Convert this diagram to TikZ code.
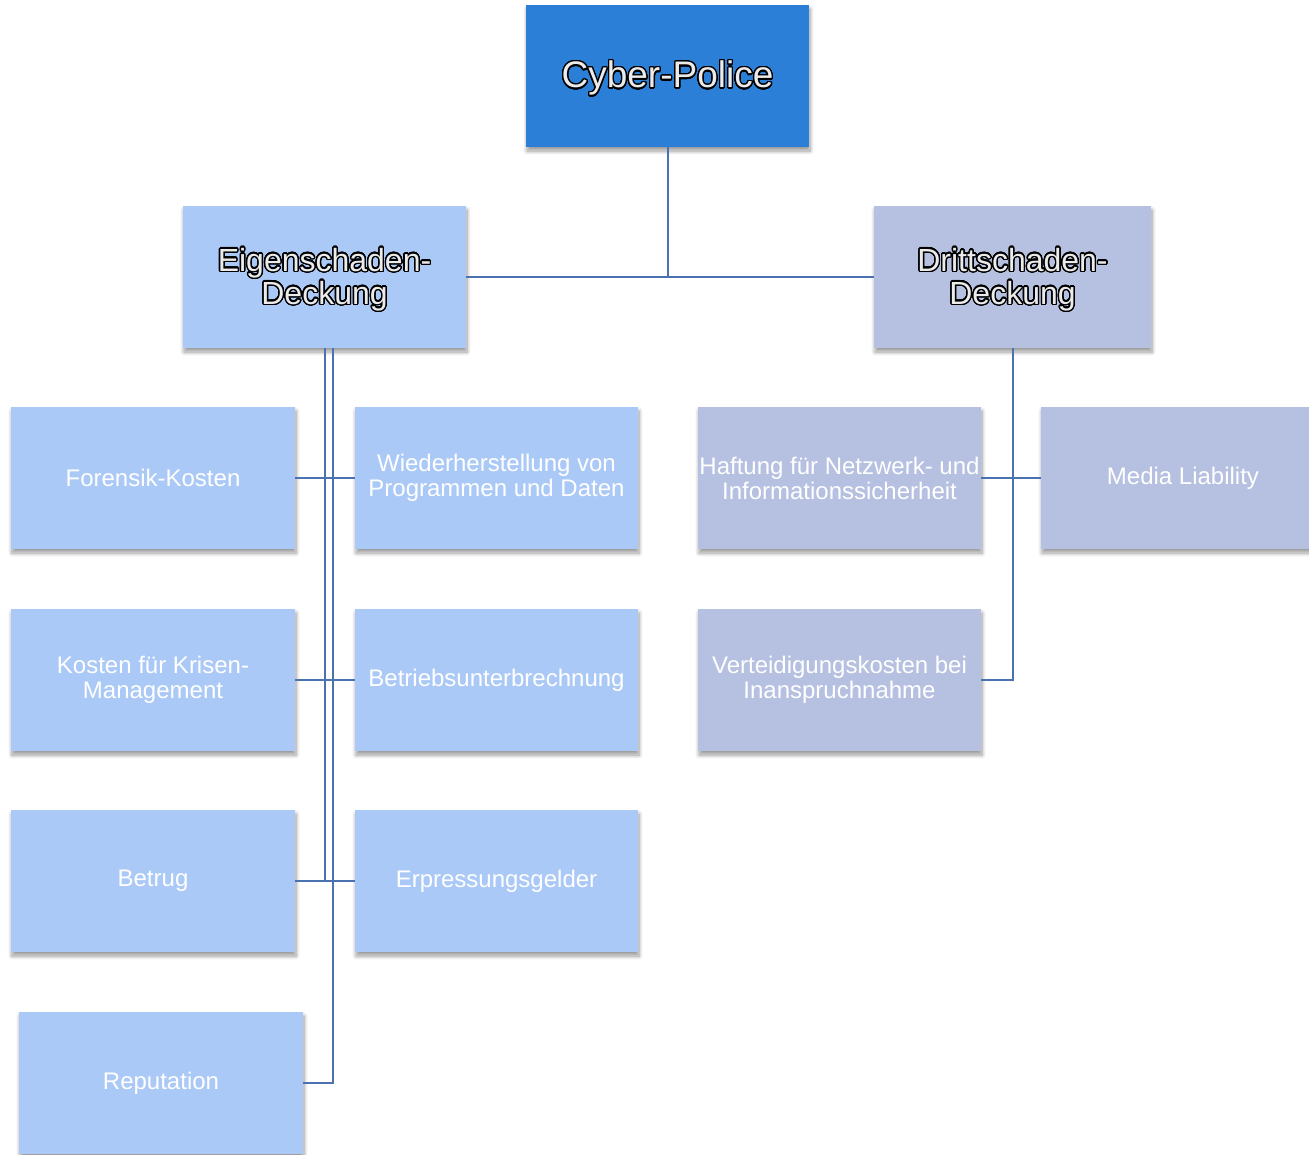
\documentclass[tikz,border=0pt]{standalone}
\usepackage{fontspec}
\setmainfont{Liberation Sans}
\usepackage{contour}
\usetikzlibrary{shadows.blur}
\contourlength{1.3pt}
\contournumber{32}
\definecolor{topblue}{RGB}{43,127,214}
\definecolor{ownblue}{RGB}{171,201,247}
\definecolor{thirdblue}{RGB}{182,192,224}
\definecolor{linkblue}{RGB}{74,114,176}
\definecolor{hdrfill}{RGB}{235,235,235}
\newcommand{\hdr}[1]{\raisebox{-3pt}[\height][\depth]{\color{hdrfill}\contour{black}{#1}}}
\tikzset{
  box/.style={rectangle, minimum width=284pt, minimum height=142pt, inner sep=0pt,
    align=center, text=white, font=\fontsize{24}{25}\selectfont,
    blur shadow={shadow xshift=1pt, shadow yshift=-4pt, shadow blur radius=4pt, shadow blur steps=8, shadow opacity=40}},
  ownbox/.style={box, fill=ownblue},
  thirdbox/.style={box, fill=thirdblue},
  link/.style={draw=linkblue, line width=2pt}
}
\begin{document}
\begin{tikzpicture}[x=1pt,y=-1pt]
\useasboundingbox (0,0) rectangle (1309,1154);
\node[box, fill=topblue, minimum width=283pt, font=\fontsize{37}{40}\selectfont] (cyber) at (667.5,76) {\hdr{Cyber-Police}};
\node[ownbox, minimum width=283pt, font=\fontsize{32}{33}\selectfont] (eigen) at (324.5,277) {\hdr{Eigenschaden-}\\\hdr{Deckung}};
\node[thirdbox, minimum width=277pt, font=\fontsize{32}{33}\selectfont] (dritt) at (1012.5,277) {\hdr{Drittschaden-}\\\hdr{Deckung}};

\node[ownbox] (forensik) at (153,478) {Forensik-Kosten};
\node[ownbox, minimum width=283pt] (wieder) at (496.5,478) {Wiederherstellung von\\Programmen und Daten};
\node[ownbox] (krisen) at (153,680) {Kosten für Krisen-\\Management};
\node[ownbox, minimum width=283pt] (betrieb) at (496.5,680) {Betriebsunterbrechnung};
\node[ownbox] (betrug) at (153,881) {Betrug};
\node[ownbox, minimum width=283pt] (erpress) at (496.5,881) {Erpressungsgelder};
\node[ownbox] (reput) at (161,1083) {Reputation};

\node[thirdbox, minimum width=283pt] (haftung) at (839.5,478) {Haftung für Netzwerk- und\\Informationssicherheit};
\node[thirdbox] (media) at (1183,478) {Media Liability};
\node[thirdbox, minimum width=283pt] (verteid) at (839.5,680) {Verteidigungskosten bei\\Inanspruchnahme};

\draw[link] (cyber.south) -- (cyber.south |- eigen.east);
\draw[link] (eigen.east) -- (dritt.west);
\coordinate (ta) at ([xshift=0.5pt]eigen.south);
\coordinate (tb) at ([xshift=8.5pt]eigen.south);
\draw[link] (ta) -- (ta |- betrug.east);
\draw[link] (tb) -- (tb |- reput.east) -- (reput.east);
\draw[link] (forensik.east) -- (wieder.west);
\draw[link] (krisen.east) -- (betrieb.west);
\draw[link] (betrug.east) -- (erpress.west);
\draw[link] (dritt.south) -- (dritt.south |- verteid.east) -- (verteid.east);
\draw[link] (haftung.east) -- (media.west);
\end{tikzpicture}
\end{document}
